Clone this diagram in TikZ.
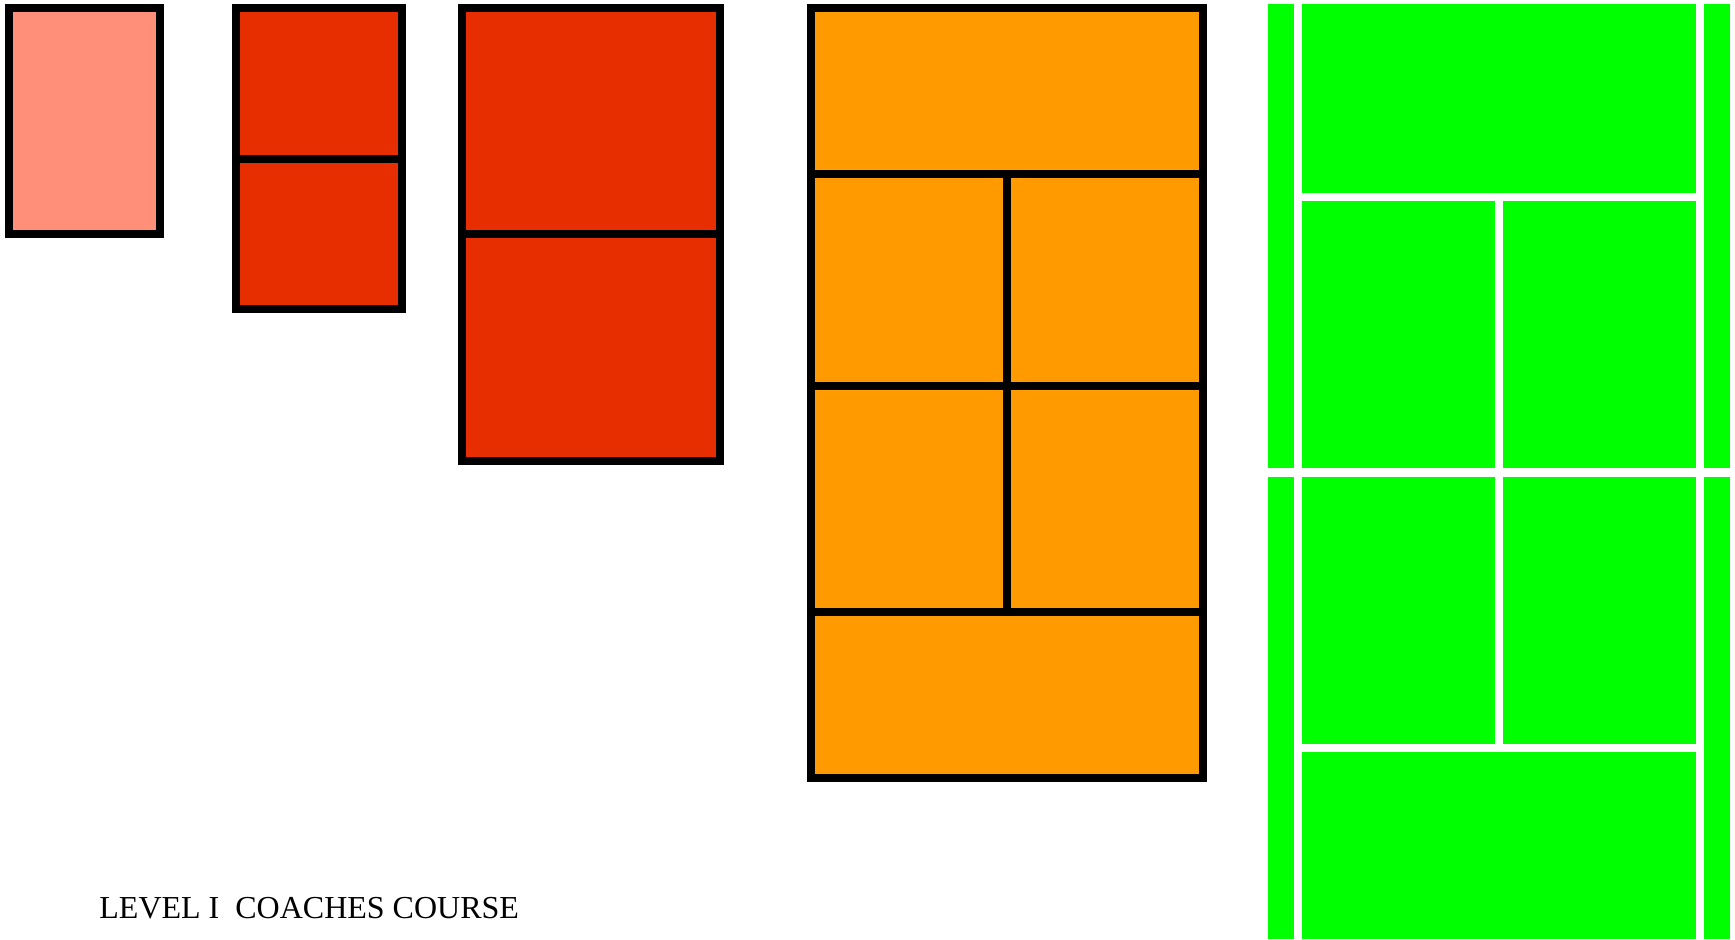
\documentclass[tikz,border=0pt]{standalone}
\usepackage{fontspec}
\setmainfont{Liberation Serif}
\definecolor{courtpink}{HTML}{FF8F78}
\definecolor{courtred}{HTML}{E62E00}
\definecolor{courtorange}{HTML}{FF9A00}
\definecolor{courtgreen}{HTML}{00FF00}

\begin{document}
\begin{tikzpicture}[x=0.5pt, y=-0.5pt,
  court/.style={draw=black, line width=4pt},
  divide/.style={black, line width=4pt},
  tline/.style={white, line width=4pt},
]
  \useasboundingbox (0,0) rectangle (1735,939);

  % stage 1
  \draw[court, fill=courtpink] (9,8) rectangle (160,234);

  % stage 2
  \draw[court, fill=courtred] (236,8) rectangle (402,309);
  \draw[divide] (236,159) -- (402,159);

  % stage 3
  \draw[court, fill=courtred] (462,8) rectangle (720,461);
  \draw[divide] (462,234) -- (720,234);

  % stage 4
  \draw[court, fill=courtorange] (811,8) rectangle (1203,778);
  \draw[divide] (811,174) -- (1203,174);
  \draw[divide] (811,386) -- (1203,386);
  \draw[divide] (811,612) -- (1203,612);
  \draw[divide] (1007,174) -- (1007,612);

  % full court
  \fill[courtgreen] (1268,4) rectangle (1730,939);
  \draw[tline] (1298,4) -- (1298,939);
  \draw[tline] (1700,4) -- (1700,939);
  \draw[tline] (1298,197) -- (1700,197);
  \draw[tline] (1298,748) -- (1700,748);
  \draw[tline] (1499,197) -- (1499,748);
  \draw[white, line width=4.5pt] (1268,472.5) -- (1730,472.5);

  \node[anchor=base west, inner sep=0pt, font=\fontsize{16}{19}\selectfont]
    (title) at (99,918) {LEVEL I~~COACHES COURSE};
\end{tikzpicture}
\end{document}
